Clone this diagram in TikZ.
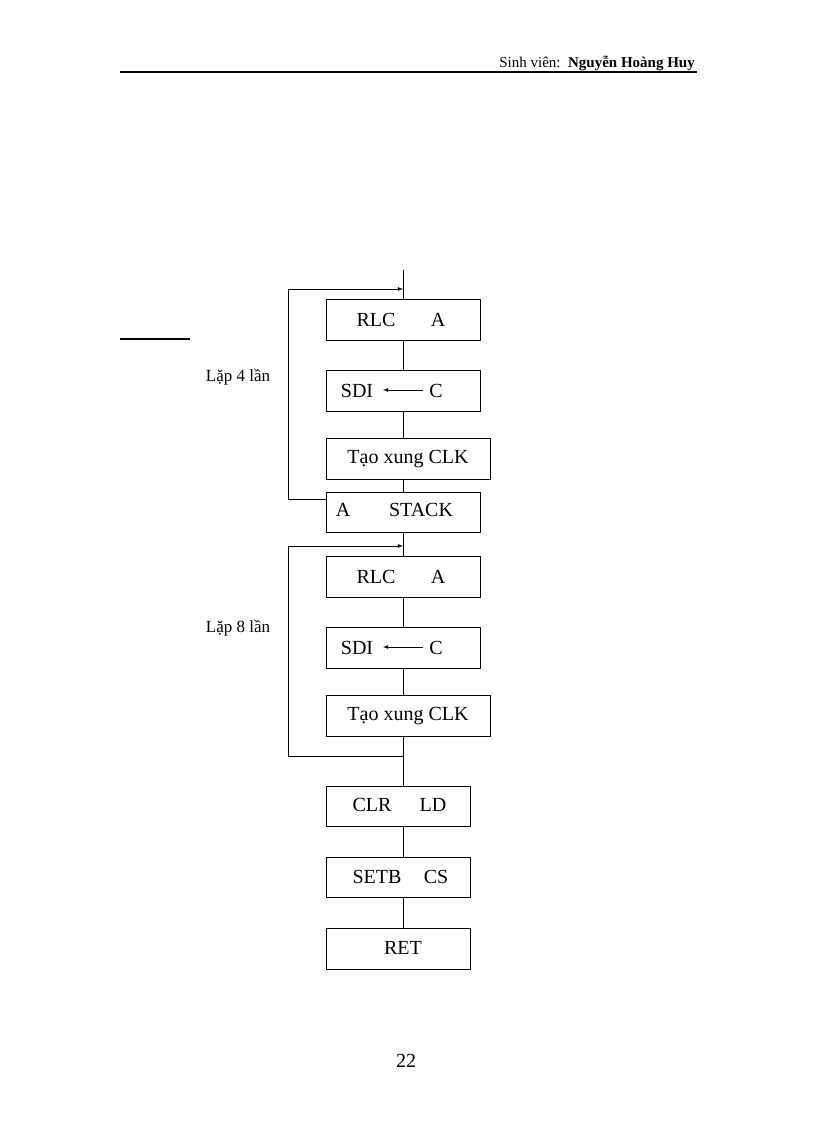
\documentclass[tikz,border=0pt]{standalone}
\usepackage{fontspec}
\setmainfont{Liberation Serif}
\begin{document}
\begin{tikzpicture}[x=1pt,y=-1pt,
 bx/.style={draw,line width=0.8pt},
 t/.style={font=\fontsize{20}{22}\selectfont,inner sep=0},
 ln/.style={line width=0.8pt},
 ar/.style={line width=0.8pt,-latex}]
\useasboundingbox (0,0) rectangle (816,1123);
\node[anchor=base east,inner sep=0] (hd) at (695,68) {\fontsize{15}{16}\selectfont Sinh\ viên:\ \ \textbf{Nguyễn Hoàng Huy}};
\draw[line width=2.5pt] (120,72) -- (697,72);
\draw[line width=1.8pt] (120,339) -- (190,339);
% boxes
\node[bx,minimum width=154,minimum height=41,inner sep=0] (b1) at (403,319.5) {};
\node[bx,minimum width=154,minimum height=41,inner sep=0] (b2) at (403,390.5) {};
\node[bx,minimum width=164,minimum height=41,inner sep=0] (b3) at (408,458.5) {};
\node[bx,minimum width=154,minimum height=40,inner sep=0] (b4) at (403,512) {};
\node[bx,minimum width=154,minimum height=41,inner sep=0] (b5) at (403,576.5) {};
\node[bx,minimum width=154,minimum height=41,inner sep=0] (b6) at (403,647.5) {};
\node[bx,minimum width=164,minimum height=41,inner sep=0] (b7) at (408,715.5) {};
\node[bx,minimum width=144,minimum height=40,inner sep=0] (b8) at (398,806) {};
\node[bx,minimum width=144,minimum height=40,inner sep=0] (b9) at (398,877) {};
\node[bx,minimum width=144,minimum height=41,inner sep=0] (b10) at (398,948.5) {};
% texts
\node[t] at (376,320) {RLC}; \node[t] at (438,320) {A};
\node[t] at (357,391) {SDI}; \node[t] at (436,391) {C};
\node[t] at (408,459) {Tạo xung CLK};
\node[t] at (343,510) {A}; \node[t] at (421,510) {STACK};
\node[t] at (376,577) {RLC}; \node[t] at (438,577) {A};
\node[t] at (357,648) {SDI}; \node[t] at (436,648) {C};
\node[t] at (408,716) {Tạo xung CLK};
\node[t] at (372,805) {CLR}; \node[t] at (433,805) {LD};
\node[t] at (377,877) {SETB}; \node[t] at (436,877) {CS};
\node[t] at (403,948) {RET};
\node[t,font=\fontsize{17}{19}\selectfont] at (238,377) {Lặp 4 lần};
\node[t,font=\fontsize{17}{19}\selectfont] at (238,628) {Lặp 8 lần};
\node[t,font=\fontsize{20}{22}\selectfont] at (406,1061) {22};
% SDI arrows
\coordinate (s1a) at (423,390); \coordinate (s1b) at (383,390);
\draw[ar] (s1a) -- (s1b);
\coordinate (s2a) at (423,647); \coordinate (s2b) at (383,647);
\draw[ar] (s2a) -- (s2b);
% connectors
\coordinate (top) at (403,270);
\draw[ln] (top) -- (b1.north);
\draw[ln] (b1.south) -- (b2.north);
\draw[ln] (b2.south) -- (403,438);
\draw[ln] (403,479) -- (b4.north);
\draw[ln] (b4.south) -- (b5.north);
\draw[ln] (b5.south) -- (b6.north);
\draw[ln] (b6.south) -- (403,695);
\draw[ln] (403,736) -- (403,786);
\draw[ln] (b8.south -| 403,0) -- (403,857);
\draw[ln] (403,897) -- (403,928);
% loops
\coordinate (l1) at (326,499);
\draw[ar] (l1) -- (288,499) -- (288,289) -- (403,289);
\coordinate (l2) at (403,756);
\draw[ar] (l2) -- (288,756) -- (288,546) -- (403,546);
\end{tikzpicture}
\end{document}
